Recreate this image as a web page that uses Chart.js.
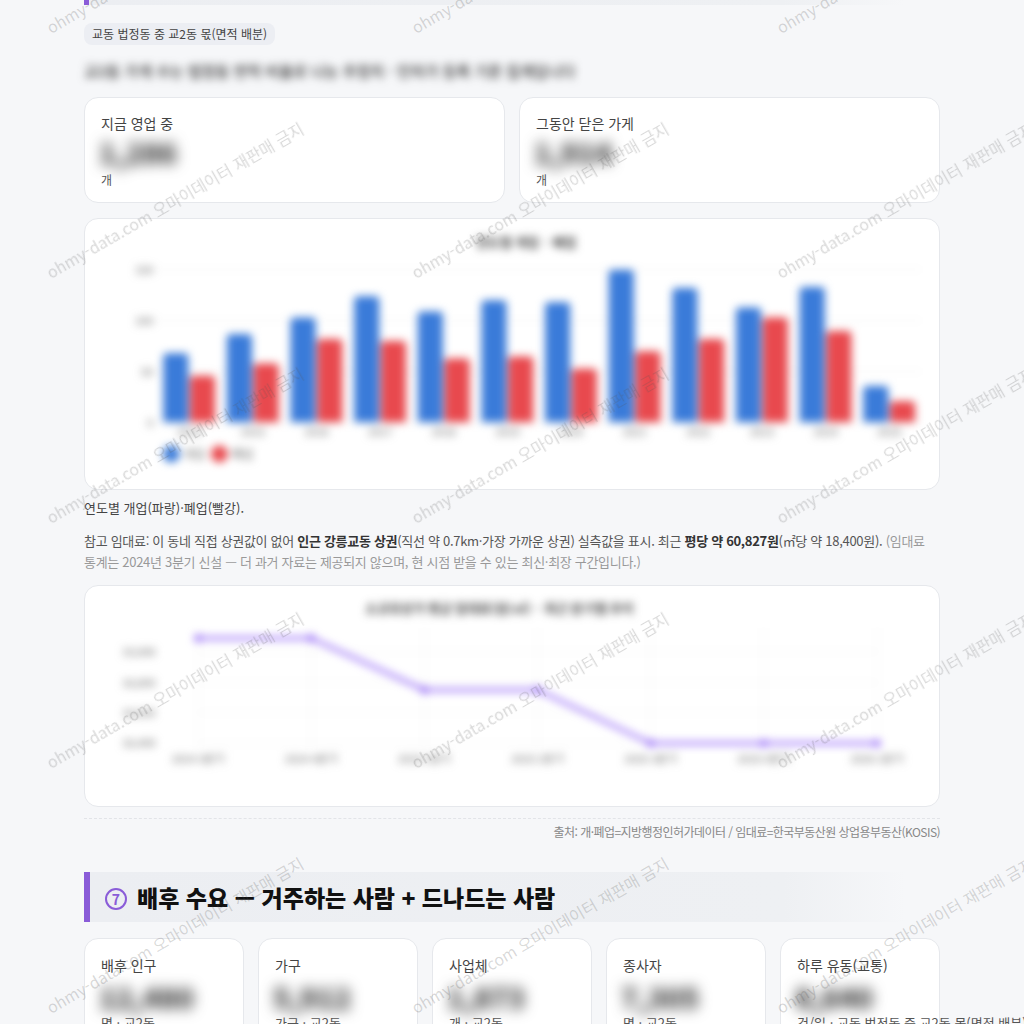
<!DOCTYPE html>
<html lang="ko">
<head>
<meta charset="utf-8">
<script src="https://cdn.jsdelivr.net/npm/chart.js@4.4.1/dist/chart.umd.min.js"></script>
<style>
  html, body { margin: 0; padding: 0; }
  body {
    width: 1024px; height: 1024px; overflow: hidden; position: relative;
    background: #f6f7f9;
    font-family: "Noto Sans CJK KR", "Noto Sans", sans-serif;
    color: #333;
  }
  .abs { position: absolute; }
  .prevhead {
    left: 84px; top: -45px; width: 816px; height: 50px;
    border-left: 5px solid #8a5cd8;
    background: linear-gradient(90deg, #eceef2 0%, #eef0f3 85%, rgba(238,240,243,0) 100%);
  }
  .chip {
    left: 84px; top: 23px; height: 22px; line-height: 22px; padding: 0 8px;
    font-size: 12px; color: #444; background: #eceef3; border-radius: 8px;
  }
  .blurline {
    left: 84px; top: 60px; font-size: 15px; font-weight: 500; color: #333; filter: blur(4.5px); white-space: nowrap;
  }
  .card {
    background: #fff; border: 1px solid #e6e8ec; border-radius: 14px; box-sizing: border-box;
  }
  .card .lbl { position: absolute; left: 16px; font-size: 14px; color: #444; white-space: nowrap; }
  .card .num { position: absolute; left: 14px; font-size: 28px; font-weight: 800; color: #333; filter: blur(7px); white-space: nowrap; }
  .card .unit { position: absolute; left: 16px; font-size: 12px; color: #555; white-space: nowrap; }
  .chartbox { position: absolute; left: 14px; top: 14px; width: 828px; }
  .caption { left: 84px; top: 498px; font-size: 13px; color: #444; line-height: 20px; }
  .para {
    left: 84px; top: 530px; width: 860px; font-size: 13px; line-height: 21px; color: #555;
    letter-spacing: -0.3px; word-break: keep-all;
  }
  .para b { color: #333; }
  .para .muted { color: #999; }
  .dash { left: 84px; top: 818px; width: 856px; border-top: 1px dashed #e2e4e8; }
  .source { right: 84px; top: 824px; font-size: 12px; color: #888; line-height: 16px; letter-spacing: -0.55px; }
  .sechead {
    left: 84px; top: 872px; width: 816px; height: 50px;
    border-left: 6px solid #8a5cd8;
    background: linear-gradient(90deg, #eceef2 0%, #eef0f3 85%, rgba(238,240,243,0) 100%);
  }
  .sechead .txt {
    position: absolute; left: 15px; top: 0; line-height: 50px;
    font-size: 23px; font-weight: 900; color: #111; white-space: nowrap;
  }
  .sechead .circ {
    display: inline-block; box-sizing: border-box; width: 22px; height: 22px; margin-right: 10px;
    border: 2px solid #8a5cd8; border-radius: 50%; color: #8a5cd8;
    font-size: 14px; font-weight: 700; line-height: 18px; text-align: center; vertical-align: 2px;
  }
  .wm {
    position: absolute; font-size: 16px; line-height: 18px; color: rgba(80, 80, 80, 0.22);
    white-space: nowrap; transform-origin: 0 100%; transform: rotate(-30deg);
    pointer-events: none; z-index: 50;
  }
</style>
</head>
<body>
<div class="abs prevhead"></div>
<div class="abs chip">교동 법정동 중 교2동 몫(면적 배분)</div>
<div class="abs blurline">교2동 가게 수는 법정동 면적 비율로 나눈 추정치 · 인허가 등록 기준 집계입니다</div>

<div class="abs card" style="left:84px; top:97px; width:421px; height:106px;">
  <div class="lbl" style="top:15px;">지금 영업 중</div>
  <div class="num" style="top:34px;">1,286</div>
  <div class="unit" style="top:73px;">개</div>
</div>
<div class="abs card" style="left:519px; top:97px; width:421px; height:106px;">
  <div class="lbl" style="top:15px;">그동안 닫은 가게</div>
  <div class="num" style="top:34px;">1,914</div>
  <div class="unit" style="top:73px;">개</div>
</div>

<div class="abs card" style="left:84px; top:218px; width:856px; height:272px;">
  <div class="chartbox" style="height:244px; filter:blur(4px);"><canvas id="grafico-개폐업"></canvas></div>
</div>

<div class="abs caption">연도별 개업(파랑)·폐업(빨강).</div>
<div class="abs para">참고 임대료: 이 동네 직접 상권값이 없어 <b>인근 강릉교동 상권</b>(직선 약 0.7km·가장 가까운 상권) 실측값을 표시. 최근 <b>평당 약 60,827원</b>(㎡당 약 18,400원). <span class="muted">(임대료 통계는 2024년 3분기 신설 — 더 과거 자료는 제공되지 않으며, 현 시점 받을 수 있는 최신·최장 구간입니다.)</span></div>

<div class="abs card" style="left:84px; top:585px; width:856px; height:222px;">
  <div class="chartbox" style="height:194px; filter:blur(4.5px);"><canvas id="grafico-임대료"></canvas></div>
</div>

<div class="abs dash"></div>
<div class="abs source">출처: 개·폐업=지방행정인허가데이터 / 임대료=한국부동산원 상업용부동산(KOSIS)</div>

<div class="abs sechead"><div class="txt"><span class="circ">7</span>배후 수요 — 거주하는 사람 + 드나드는 사람</div></div>

<div class="abs card" style="left:84px; top:938px; width:160px; height:130px;">
  <div class="lbl" style="top:16px;">배후 인구</div>
  <div class="num" style="top:38px;">12,480</div>
  <div class="unit" style="top:74px; font-size:13px;">명 · 교2동</div>
</div>
<div class="abs card" style="left:258px; top:938px; width:160px; height:130px;">
  <div class="lbl" style="top:16px;">가구</div>
  <div class="num" style="top:38px;">5,912</div>
  <div class="unit" style="top:74px; font-size:13px;">가구 · 교2동</div>
</div>
<div class="abs card" style="left:432px; top:938px; width:160px; height:130px;">
  <div class="lbl" style="top:16px;">사업체</div>
  <div class="num" style="top:38px;">1,873</div>
  <div class="unit" style="top:74px; font-size:13px;">개 · 교2동</div>
</div>
<div class="abs card" style="left:606px; top:938px; width:160px; height:130px;">
  <div class="lbl" style="top:16px;">종사자</div>
  <div class="num" style="top:38px;">7,305</div>
  <div class="unit" style="top:74px; font-size:13px;">명 · 교2동</div>
</div>
<div class="abs card" style="left:780px; top:938px; width:160px; height:130px;">
  <div class="lbl" style="top:16px;">하루 유동(교통)</div>
  <div class="num" style="top:38px;">8,640</div>
  <div class="unit" style="top:74px; font-size:13px;">건/일 · 교동 법정동 중 교2동 몫(면적 배분)</div>
</div>

<div id="marcas"></div>

<script>
// 연도별 개업/폐업 건수
const anos = ["2014", "2015", "2016", "2017", "2018", "2019", "2020", "2021", "2022", "2023", "2024", "2025"];
const aberturas = [68, 87, 103, 124, 109, 120, 118, 150, 132, 113, 133, 36];
const fechamentos = [46, 58, 82, 80, 63, 65, 53, 70, 82, 103, 90, 21];

// 분기별 임대료 (원/㎡)
const trimestres = ["2024 3분기", "2024 4분기", "2025 1분기", "2025 2분기", "2025 3분기", "2025 4분기", "2026 1분기"];
const aluguel = [19090, 19090, 18750, 18750, 18400, 18400, 18400];
const aluguelTicks = [18400, 18600, 18800, 19000];

Chart.defaults.font.family = "'Noto Sans CJK KR', 'Noto Sans', sans-serif";
Chart.defaults.color = "#666";

const ctxBarras = document.getElementById("grafico-개폐업").getContext("2d");
const dadosBarras = {
  labels: anos,
  datasets: [
    {
      label: "개업",
      data: aberturas,
      backgroundColor: "#3a7bd9",
      borderRadius: 4,
      barPercentage: 0.94,
      categoryPercentage: 0.84,
    },
    {
      label: "폐업",
      data: fechamentos,
      backgroundColor: "#e8494e",
      borderRadius: 4,
      barPercentage: 0.94,
      categoryPercentage: 0.84,
    },
  ],
};
const configBarras = {
  type: "bar",
  data: dadosBarras,
  options: {
    responsive: true,
    maintainAspectRatio: false,
    animation: false,
    layout: { padding: { left: 32, right: 6, bottom: 7 } },
    scales: {
      x: {
        grid: { display: false, drawTicks: false },
        border: { display: false },
        ticks: { font: { size: 11 }, padding: 2 },
      },
      y: {
        min: 0,
        max: 150,
        grid: { color: "rgba(0,0,0,0.07)", drawTicks: false },
        border: { display: false },
        ticks: { stepSize: 50, font: { size: 11 }, padding: 4 },
      },
    },
    plugins: {
      title: {
        display: true,
        text: "연도별 개업 · 폐업",
        color: "#444",
        font: { size: 13, weight: "bold" },
        padding: { top: 1, bottom: 20 },
      },
      legend: {
        display: true,
        position: "bottom",
        align: "start",
        fullSize: false,
        labels: { usePointStyle: true, pointStyle: "circle", font: { size: 12 }, padding: 8, color: "#666" },
      },
    },
  },
};
const graficoBarras = new Chart(ctxBarras, configBarras);

const ctxLinha = document.getElementById("grafico-임대료").getContext("2d");
const dadosLinha = {
  labels: trimestres,
  datasets: [{
    label: "㎡당 임대료",
    data: aluguel,
    borderColor: "#8b5cf6",
    backgroundColor: "#8b5cf6",
    borderWidth: 3,
    pointRadius: 2,
    tension: 0,
    fill: false,
  }],
};
const configLinha = {
  type: "line",
  data: dadosLinha,
  options: {
    responsive: true,
    maintainAspectRatio: false,
    animation: false,
    layout: { padding: { left: 23, right: 50, bottom: 25 } },
    scales: {
      x: {
        grid: { color: "rgba(0,0,0,0.06)", drawTicks: false },
        border: { display: false },
        ticks: { font: { size: 11 }, padding: 4 },
      },
      y: {
        min: 18370,
        max: 19160,
        grid: { color: "rgba(0,0,0,0.06)", drawTicks: false },
        border: { display: false },
        ticks: { font: { size: 11 }, padding: 4, crossAlign: "far" },
        afterBuildTicks: function (scale) {
          scale.ticks = aluguelTicks.map(function (v) { return { value: v }; });
        },
        afterFit: function (scale) { scale.width = 76; },
      },
    },
    plugins: {
      title: {
        display: true,
        text: "소규모상가 평균 임대료(원/㎡) · 최근 분기별 추이",
        color: "#444",
        font: { size: 13, weight: "bold" },
        padding: { top: 0, bottom: 12 },
      },
      legend: { display: false },
    },
  },
};
const graficoLinha = new Chart(ctxLinha, configLinha);

// 워터마크
const marcaX = [52, 417, 782];
const marcaY = [36, 281, 526, 771, 1016];
const marcas = document.getElementById("marcas");
marcaY.forEach(function (y) {
  marcaX.forEach(function (x) {
    const s = document.createElement("span");
    s.className = "wm";
    s.textContent = "ohmy-data.com 오마이데이터 재판매 금지";
    s.style.left = x + "px";
    s.style.top = (y - 18) + "px";
    marcas.appendChild(s);
  });
});
</script>
</body>
</html>
